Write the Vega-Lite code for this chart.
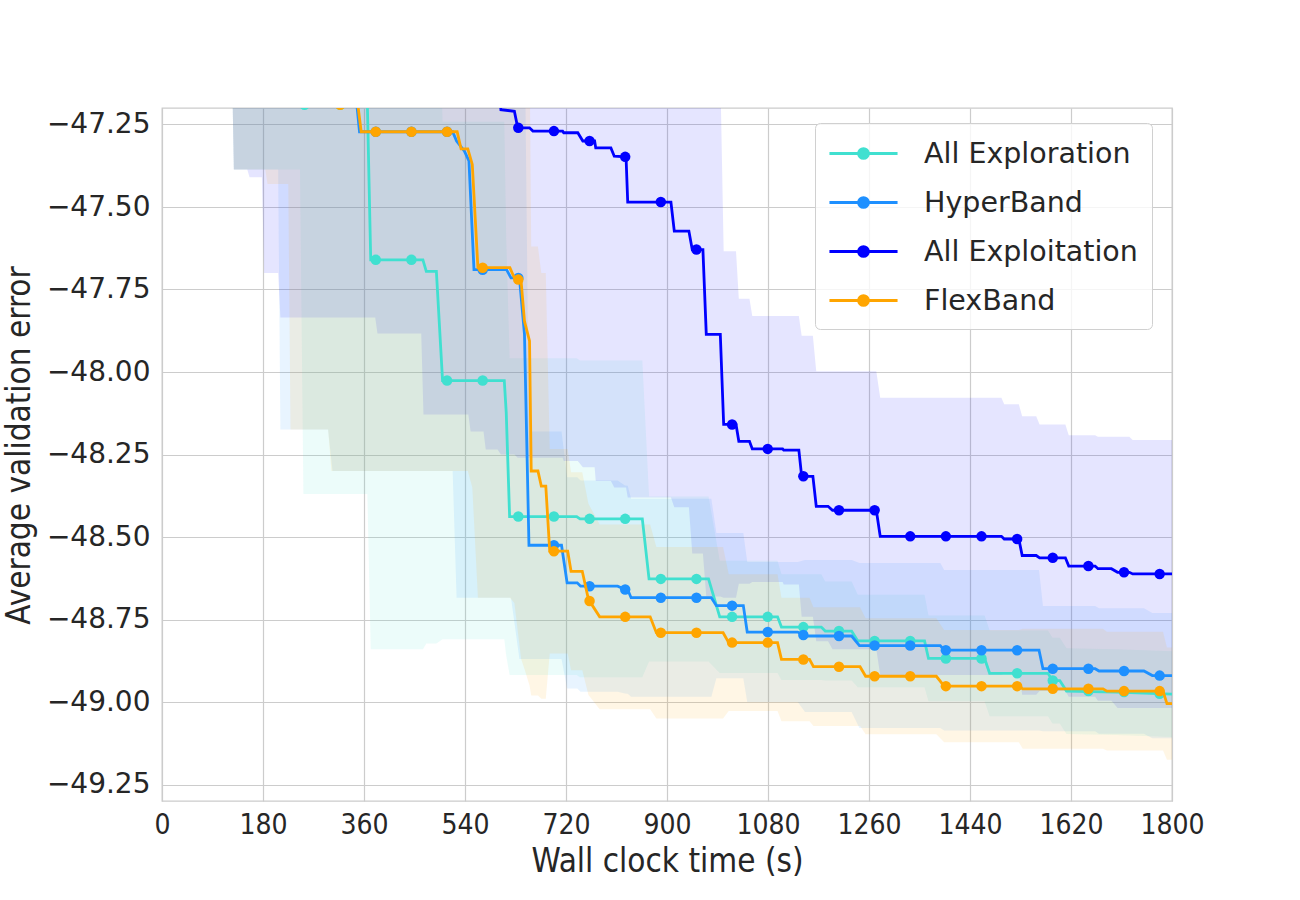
{
  "$schema": "https://vega.github.io/schema/vega-lite/v6.json",
  "width": 1010,
  "height": 693,
  "autosize": {"type": "none"},
  "padding": {"left": 162, "top": 108, "right": 128, "bottom": 99},
  "background": "white",
  "datasets": {
    "curves": [
      {"series": "All Exploration", "t": 0, "mean": -46.9, "lower": -47.1, "upper": -46.7},
      {"series": "All Exploration", "t": 125, "mean": -46.9, "lower": -47.1, "upper": -46.7},
      {"series": "All Exploration", "t": 128, "mean": -46.95, "lower": -47.386, "upper": -46.5},
      {"series": "All Exploration", "t": 246, "mean": -46.95, "lower": -47.386, "upper": -46.5},
      {"series": "All Exploration", "t": 252, "mean": -47.19, "lower": -48.37, "upper": -46.0},
      {"series": "All Exploration", "t": 366, "mean": -47.19, "lower": -48.37, "upper": -46.0},
      {"series": "All Exploration", "t": 372, "mean": -47.66, "lower": -48.84, "upper": -46.48},
      {"series": "All Exploration", "t": 465, "mean": -47.66, "lower": -48.84, "upper": -46.48},
      {"series": "All Exploration", "t": 471, "mean": -47.695, "lower": -48.823, "upper": -46.57},
      {"series": "All Exploration", "t": 489, "mean": -47.695, "lower": -48.823, "upper": -46.57},
      {"series": "All Exploration", "t": 500, "mean": -48.026, "lower": -48.81, "upper": -47.242},
      {"series": "All Exploration", "t": 610, "mean": -48.026, "lower": -48.81, "upper": -47.242},
      {"series": "All Exploration", "t": 613.5, "mean": -48.123, "lower": -48.86, "upper": -47.6},
      {"series": "All Exploration", "t": 619.5, "mean": -48.438, "lower": -48.918, "upper": -47.958},
      {"series": "All Exploration", "t": 739, "mean": -48.438, "lower": -48.918, "upper": -47.958},
      {"series": "All Exploration", "t": 745, "mean": -48.445, "lower": -48.925, "upper": -47.965},
      {"series": "All Exploration", "t": 856, "mean": -48.445, "lower": -48.925, "upper": -47.965},
      {"series": "All Exploration", "t": 868, "mean": -48.627, "lower": -48.877, "upper": -48.377},
      {"series": "All Exploration", "t": 974, "mean": -48.627, "lower": -48.877, "upper": -48.377},
      {"series": "All Exploration", "t": 994, "mean": -48.742, "lower": -48.912, "upper": -48.572},
      {"series": "All Exploration", "t": 1097, "mean": -48.742, "lower": -48.912, "upper": -48.572},
      {"series": "All Exploration", "t": 1104, "mean": -48.773, "lower": -48.933, "upper": -48.613},
      {"series": "All Exploration", "t": 1175, "mean": -48.773, "lower": -48.933, "upper": -48.613},
      {"series": "All Exploration", "t": 1182, "mean": -48.785, "lower": -48.935, "upper": -48.635},
      {"series": "All Exploration", "t": 1229, "mean": -48.785, "lower": -48.935, "upper": -48.635},
      {"series": "All Exploration", "t": 1240, "mean": -48.815, "lower": -48.955, "upper": -48.675},
      {"series": "All Exploration", "t": 1359, "mean": -48.815, "lower": -48.955, "upper": -48.675},
      {"series": "All Exploration", "t": 1366, "mean": -48.868, "lower": -48.998, "upper": -48.738},
      {"series": "All Exploration", "t": 1466, "mean": -48.868, "lower": -48.998, "upper": -48.738},
      {"series": "All Exploration", "t": 1475, "mean": -48.913, "lower": -49.043, "upper": -48.783},
      {"series": "All Exploration", "t": 1579, "mean": -48.913, "lower": -49.043, "upper": -48.783},
      {"series": "All Exploration", "t": 1587, "mean": -48.935, "lower": -49.065, "upper": -48.805},
      {"series": "All Exploration", "t": 1600, "mean": -48.935, "lower": -49.065, "upper": -48.805},
      {"series": "All Exploration", "t": 1612, "mean": -48.967, "lower": -49.097, "upper": -48.837},
      {"series": "All Exploration", "t": 1700, "mean": -48.97, "lower": -49.1, "upper": -48.84},
      {"series": "All Exploration", "t": 1800, "mean": -48.976, "lower": -49.106, "upper": -48.846},

      {"series": "HyperBand", "t": 0, "mean": -46.9, "lower": -47.1, "upper": -46.7},
      {"series": "HyperBand", "t": 125, "mean": -46.9, "lower": -47.1, "upper": -46.7},
      {"series": "HyperBand", "t": 128, "mean": -46.9, "lower": -47.386, "upper": -46.5},
      {"series": "HyperBand", "t": 207, "mean": -46.9, "lower": -47.386, "upper": -46.5},
      {"series": "HyperBand", "t": 211, "mean": -46.9, "lower": -48.174, "upper": -46.0},
      {"series": "HyperBand", "t": 296, "mean": -46.9, "lower": -48.174, "upper": -46.0},
      {"series": "HyperBand", "t": 304, "mean": -46.95, "lower": -48.3, "upper": -46.0},
      {"series": "HyperBand", "t": 342, "mean": -47.1, "lower": -48.3, "upper": -46.0},
      {"series": "HyperBand", "t": 352, "mean": -47.272, "lower": -48.3, "upper": -46.24},
      {"series": "HyperBand", "t": 518, "mean": -47.272, "lower": -48.3, "upper": -46.24},
      {"series": "HyperBand", "t": 525, "mean": -47.3, "lower": -48.684, "upper": -46.3},
      {"series": "HyperBand", "t": 539, "mean": -47.331, "lower": -48.684, "upper": -46.3},
      {"series": "HyperBand", "t": 547, "mean": -47.36, "lower": -48.684, "upper": -46.4},
      {"series": "HyperBand", "t": 556, "mean": -47.69, "lower": -48.684, "upper": -46.7},
      {"series": "HyperBand", "t": 614, "mean": -47.69, "lower": -48.684, "upper": -46.7},
      {"series": "HyperBand", "t": 622, "mean": -47.715, "lower": -48.684, "upper": -46.75},
      {"series": "HyperBand", "t": 637, "mean": -47.715, "lower": -48.87, "upper": -46.56},
      {"series": "HyperBand", "t": 646, "mean": -47.886, "lower": -48.87, "upper": -46.9},
      {"series": "HyperBand", "t": 654, "mean": -48.525, "lower": -48.87, "upper": -48.18},
      {"series": "HyperBand", "t": 712, "mean": -48.525, "lower": -48.87, "upper": -48.18},
      {"series": "HyperBand", "t": 722, "mean": -48.639, "lower": -48.959, "upper": -48.319},
      {"series": "HyperBand", "t": 740, "mean": -48.639, "lower": -48.959, "upper": -48.319},
      {"series": "HyperBand", "t": 746, "mean": -48.649, "lower": -48.969, "upper": -48.329},
      {"series": "HyperBand", "t": 812, "mean": -48.649, "lower": -48.969, "upper": -48.329},
      {"series": "HyperBand", "t": 825, "mean": -48.659, "lower": -48.974, "upper": -48.344},
      {"series": "HyperBand", "t": 830, "mean": -48.66, "lower": -48.975, "upper": -48.345},
      {"series": "HyperBand", "t": 836, "mean": -48.684, "lower": -48.984, "upper": -48.384},
      {"series": "HyperBand", "t": 979, "mean": -48.684, "lower": -48.984, "upper": -48.384},
      {"series": "HyperBand", "t": 988, "mean": -48.708, "lower": -48.928, "upper": -48.488},
      {"series": "HyperBand", "t": 1036, "mean": -48.708, "lower": -48.928, "upper": -48.488},
      {"series": "HyperBand", "t": 1043, "mean": -48.788, "lower": -49.0, "upper": -48.576},
      {"series": "HyperBand", "t": 1133, "mean": -48.788, "lower": -49.0, "upper": -48.576},
      {"series": "HyperBand", "t": 1146, "mean": -48.8, "lower": -49.03, "upper": -48.57},
      {"series": "HyperBand", "t": 1229, "mean": -48.8, "lower": -49.03, "upper": -48.57},
      {"series": "HyperBand", "t": 1243, "mean": -48.829, "lower": -49.079, "upper": -48.579},
      {"series": "HyperBand", "t": 1387, "mean": -48.829, "lower": -49.079, "upper": -48.579},
      {"series": "HyperBand", "t": 1394, "mean": -48.843, "lower": -49.086, "upper": -48.6},
      {"series": "HyperBand", "t": 1563, "mean": -48.843, "lower": -49.086, "upper": -48.6},
      {"series": "HyperBand", "t": 1570, "mean": -48.899, "lower": -49.089, "upper": -48.709},
      {"series": "HyperBand", "t": 1663, "mean": -48.899, "lower": -49.089, "upper": -48.709},
      {"series": "HyperBand", "t": 1670, "mean": -48.906, "lower": -49.096, "upper": -48.716},
      {"series": "HyperBand", "t": 1750, "mean": -48.906, "lower": -49.096, "upper": -48.716},
      {"series": "HyperBand", "t": 1765, "mean": -48.92, "lower": -49.11, "upper": -48.73},
      {"series": "HyperBand", "t": 1800, "mean": -48.92, "lower": -49.11, "upper": -48.73},

      {"series": "All Exploitation", "t": 0, "mean": -46.9, "lower": -47.1, "upper": -46.7},
      {"series": "All Exploitation", "t": 125, "mean": -46.9, "lower": -47.1, "upper": -46.7},
      {"series": "All Exploitation", "t": 128, "mean": -46.9, "lower": -47.386, "upper": -46.5},
      {"series": "All Exploitation", "t": 152, "mean": -46.9, "lower": -47.386, "upper": -46.5},
      {"series": "All Exploitation", "t": 156, "mean": -46.9, "lower": -47.41, "upper": -46.5},
      {"series": "All Exploitation", "t": 178, "mean": -46.9, "lower": -47.41, "upper": -46.5},
      {"series": "All Exploitation", "t": 182, "mean": -46.9, "lower": -47.7, "upper": -46.3},
      {"series": "All Exploitation", "t": 207, "mean": -46.9, "lower": -47.7, "upper": -46.3},
      {"series": "All Exploitation", "t": 211, "mean": -46.9, "lower": -47.835, "upper": -46.2},
      {"series": "All Exploitation", "t": 380, "mean": -46.9, "lower": -47.835, "upper": -46.2},
      {"series": "All Exploitation", "t": 384, "mean": -46.9, "lower": -47.883, "upper": -46.2},
      {"series": "All Exploitation", "t": 462, "mean": -46.9, "lower": -47.883, "upper": -46.2},
      {"series": "All Exploitation", "t": 466, "mean": -46.9, "lower": -48.129, "upper": -46.0},
      {"series": "All Exploitation", "t": 546, "mean": -46.9, "lower": -48.129, "upper": -46.0},
      {"series": "All Exploitation", "t": 550, "mean": -46.9, "lower": -48.18, "upper": -46.0},
      {"series": "All Exploitation", "t": 573, "mean": -46.9, "lower": -48.18, "upper": -46.0},
      {"series": "All Exploitation", "t": 577, "mean": -46.95, "lower": -48.235, "upper": -46.0},
      {"series": "All Exploitation", "t": 598, "mean": -47.1, "lower": -48.235, "upper": -46.0},
      {"series": "All Exploitation", "t": 604, "mean": -47.205, "lower": -48.25, "upper": -46.2},
      {"series": "All Exploitation", "t": 628, "mean": -47.21, "lower": -48.25, "upper": -46.2},
      {"series": "All Exploitation", "t": 634, "mean": -47.26, "lower": -48.26, "upper": -46.26},
      {"series": "All Exploitation", "t": 655, "mean": -47.26, "lower": -48.26, "upper": -46.26},
      {"series": "All Exploitation", "t": 661, "mean": -47.27, "lower": -48.26, "upper": -46.28},
      {"series": "All Exploitation", "t": 714, "mean": -47.27, "lower": -48.26, "upper": -46.28},
      {"series": "All Exploitation", "t": 716, "mean": -47.275, "lower": -48.27, "upper": -46.28},
      {"series": "All Exploitation", "t": 741, "mean": -47.275, "lower": -48.27, "upper": -46.28},
      {"series": "All Exploitation", "t": 750, "mean": -47.3, "lower": -48.289, "upper": -46.31},
      {"series": "All Exploitation", "t": 771, "mean": -47.3, "lower": -48.289, "upper": -46.31},
      {"series": "All Exploitation", "t": 773, "mean": -47.321, "lower": -48.33, "upper": -46.31},
      {"series": "All Exploitation", "t": 800, "mean": -47.321, "lower": -48.33, "upper": -46.31},
      {"series": "All Exploitation", "t": 806, "mean": -47.346, "lower": -48.35, "upper": -46.34},
      {"series": "All Exploitation", "t": 827, "mean": -47.348, "lower": -48.35, "upper": -46.34},
      {"series": "All Exploitation", "t": 830, "mean": -47.485, "lower": -48.38, "upper": -46.59},
      {"series": "All Exploitation", "t": 907, "mean": -47.485, "lower": -48.38, "upper": -46.59},
      {"series": "All Exploitation", "t": 913, "mean": -47.573, "lower": -48.41, "upper": -46.74},
      {"series": "All Exploitation", "t": 939, "mean": -47.573, "lower": -48.41, "upper": -46.74},
      {"series": "All Exploitation", "t": 945, "mean": -47.629, "lower": -48.55, "upper": -46.71},
      {"series": "All Exploitation", "t": 964, "mean": -47.629, "lower": -48.55, "upper": -46.71},
      {"series": "All Exploitation", "t": 970, "mean": -47.886, "lower": -48.68, "upper": -47.09},
      {"series": "All Exploitation", "t": 995, "mean": -47.886, "lower": -48.68, "upper": -47.09},
      {"series": "All Exploitation", "t": 1001, "mean": -48.159, "lower": -48.684, "upper": -47.634},
      {"series": "All Exploitation", "t": 1023, "mean": -48.159, "lower": -48.684, "upper": -47.634},
      {"series": "All Exploitation", "t": 1028, "mean": -48.21, "lower": -48.642, "upper": -47.778},
      {"series": "All Exploitation", "t": 1047, "mean": -48.21, "lower": -48.642, "upper": -47.778},
      {"series": "All Exploitation", "t": 1052, "mean": -48.233, "lower": -48.636, "upper": -47.83},
      {"series": "All Exploitation", "t": 1106, "mean": -48.233, "lower": -48.636, "upper": -47.83},
      {"series": "All Exploitation", "t": 1108, "mean": -48.237, "lower": -48.644, "upper": -47.83},
      {"series": "All Exploitation", "t": 1135, "mean": -48.237, "lower": -48.644, "upper": -47.83},
      {"series": "All Exploitation", "t": 1140, "mean": -48.316, "lower": -48.742, "upper": -47.89},
      {"series": "All Exploitation", "t": 1160, "mean": -48.316, "lower": -48.742, "upper": -47.89},
      {"series": "All Exploitation", "t": 1166, "mean": -48.407, "lower": -48.816, "upper": -47.998},
      {"series": "All Exploitation", "t": 1187, "mean": -48.407, "lower": -48.816, "upper": -47.998},
      {"series": "All Exploitation", "t": 1195, "mean": -48.419, "lower": -48.84, "upper": -47.998},
      {"series": "All Exploitation", "t": 1273, "mean": -48.419, "lower": -48.84, "upper": -47.998},
      {"series": "All Exploitation", "t": 1280, "mean": -48.498, "lower": -48.918, "upper": -48.078},
      {"series": "All Exploitation", "t": 1496, "mean": -48.498, "lower": -48.918, "upper": -48.078},
      {"series": "All Exploitation", "t": 1501, "mean": -48.506, "lower": -48.914, "upper": -48.098},
      {"series": "All Exploitation", "t": 1527, "mean": -48.506, "lower": -48.914, "upper": -48.098},
      {"series": "All Exploitation", "t": 1533, "mean": -48.556, "lower": -48.978, "upper": -48.134},
      {"series": "All Exploitation", "t": 1558, "mean": -48.556, "lower": -48.978, "upper": -48.134},
      {"series": "All Exploitation", "t": 1564, "mean": -48.563, "lower": -48.967, "upper": -48.159},
      {"series": "All Exploitation", "t": 1610, "mean": -48.563, "lower": -48.967, "upper": -48.159},
      {"series": "All Exploitation", "t": 1616, "mean": -48.588, "lower": -48.984, "upper": -48.192},
      {"series": "All Exploitation", "t": 1663, "mean": -48.588, "lower": -48.984, "upper": -48.192},
      {"series": "All Exploitation", "t": 1668, "mean": -48.596, "lower": -48.996, "upper": -48.196},
      {"series": "All Exploitation", "t": 1692, "mean": -48.596, "lower": -48.996, "upper": -48.196},
      {"series": "All Exploitation", "t": 1703, "mean": -48.607, "lower": -49.018, "upper": -48.196},
      {"series": "All Exploitation", "t": 1724, "mean": -48.607, "lower": -49.018, "upper": -48.196},
      {"series": "All Exploitation", "t": 1730, "mean": -48.612, "lower": -49.018, "upper": -48.206},
      {"series": "All Exploitation", "t": 1800, "mean": -48.612, "lower": -49.018, "upper": -48.206},

      {"series": "FlexBand", "t": 0, "mean": -46.9, "lower": -47.1, "upper": -46.7},
      {"series": "FlexBand", "t": 125, "mean": -46.9, "lower": -47.1, "upper": -46.7},
      {"series": "FlexBand", "t": 128, "mean": -46.9, "lower": -47.386, "upper": -46.5},
      {"series": "FlexBand", "t": 184, "mean": -46.9, "lower": -47.386, "upper": -46.5},
      {"series": "FlexBand", "t": 188, "mean": -46.9, "lower": -47.43, "upper": -46.5},
      {"series": "FlexBand", "t": 225, "mean": -46.9, "lower": -47.43, "upper": -46.5},
      {"series": "FlexBand", "t": 229, "mean": -46.9, "lower": -48.174, "upper": -46.0},
      {"series": "FlexBand", "t": 296, "mean": -46.9, "lower": -48.174, "upper": -46.0},
      {"series": "FlexBand", "t": 302, "mean": -47.0, "lower": -48.3, "upper": -46.0},
      {"series": "FlexBand", "t": 305, "mean": -47.19, "lower": -48.3, "upper": -46.0},
      {"series": "FlexBand", "t": 349, "mean": -47.19, "lower": -48.3, "upper": -46.0},
      {"series": "FlexBand", "t": 355, "mean": -47.272, "lower": -48.3, "upper": -46.24},
      {"series": "FlexBand", "t": 526, "mean": -47.272, "lower": -48.3, "upper": -46.24},
      {"series": "FlexBand", "t": 533, "mean": -47.324, "lower": -48.3, "upper": -46.3},
      {"series": "FlexBand", "t": 545, "mean": -47.324, "lower": -48.3, "upper": -46.3},
      {"series": "FlexBand", "t": 553, "mean": -47.371, "lower": -48.35, "upper": -46.4},
      {"series": "FlexBand", "t": 563, "mean": -47.684, "lower": -48.684, "upper": -46.68},
      {"series": "FlexBand", "t": 620, "mean": -47.684, "lower": -48.684, "upper": -46.68},
      {"series": "FlexBand", "t": 628, "mean": -47.715, "lower": -48.7, "upper": -46.73},
      {"series": "FlexBand", "t": 640, "mean": -47.725, "lower": -48.87, "upper": -46.6},
      {"series": "FlexBand", "t": 646, "mean": -47.846, "lower": -48.9, "upper": -46.8},
      {"series": "FlexBand", "t": 655, "mean": -47.906, "lower": -48.95, "upper": -47.0},
      {"series": "FlexBand", "t": 658, "mean": -48.3, "lower": -48.98, "upper": -47.62},
      {"series": "FlexBand", "t": 670, "mean": -48.3, "lower": -48.98, "upper": -47.62},
      {"series": "FlexBand", "t": 676, "mean": -48.346, "lower": -48.99, "upper": -47.7},
      {"series": "FlexBand", "t": 684, "mean": -48.346, "lower": -48.99, "upper": -47.7},
      {"series": "FlexBand", "t": 691, "mean": -48.543, "lower": -48.853, "upper": -48.233},
      {"series": "FlexBand", "t": 723, "mean": -48.543, "lower": -48.853, "upper": -48.233},
      {"series": "FlexBand", "t": 729, "mean": -48.604, "lower": -48.904, "upper": -48.304},
      {"series": "FlexBand", "t": 749, "mean": -48.604, "lower": -48.904, "upper": -48.304},
      {"series": "FlexBand", "t": 760, "mean": -48.689, "lower": -48.979, "upper": -48.399},
      {"series": "FlexBand", "t": 780, "mean": -48.742, "lower": -49.022, "upper": -48.462},
      {"series": "FlexBand", "t": 870, "mean": -48.742, "lower": -49.022, "upper": -48.462},
      {"series": "FlexBand", "t": 881, "mean": -48.79, "lower": -49.05, "upper": -48.53},
      {"series": "FlexBand", "t": 1000, "mean": -48.79, "lower": -49.05, "upper": -48.53},
      {"series": "FlexBand", "t": 1010, "mean": -48.82, "lower": -49.027, "upper": -48.613},
      {"series": "FlexBand", "t": 1097, "mean": -48.82, "lower": -49.027, "upper": -48.613},
      {"series": "FlexBand", "t": 1104, "mean": -48.871, "lower": -49.058, "upper": -48.684},
      {"series": "FlexBand", "t": 1154, "mean": -48.871, "lower": -49.058, "upper": -48.684},
      {"series": "FlexBand", "t": 1161, "mean": -48.893, "lower": -49.073, "upper": -48.713},
      {"series": "FlexBand", "t": 1244, "mean": -48.893, "lower": -49.073, "upper": -48.713},
      {"series": "FlexBand", "t": 1254, "mean": -48.922, "lower": -49.098, "upper": -48.746},
      {"series": "FlexBand", "t": 1380, "mean": -48.922, "lower": -49.098, "upper": -48.746},
      {"series": "FlexBand", "t": 1394, "mean": -48.952, "lower": -49.122, "upper": -48.782},
      {"series": "FlexBand", "t": 1527, "mean": -48.952, "lower": -49.122, "upper": -48.782},
      {"series": "FlexBand", "t": 1534, "mean": -48.96, "lower": -49.142, "upper": -48.778},
      {"series": "FlexBand", "t": 1677, "mean": -48.96, "lower": -49.142, "upper": -48.778},
      {"series": "FlexBand", "t": 1684, "mean": -48.967, "lower": -49.147, "upper": -48.787},
      {"series": "FlexBand", "t": 1784, "mean": -48.967, "lower": -49.147, "upper": -48.787},
      {"series": "FlexBand", "t": 1791, "mean": -49.005, "lower": -49.175, "upper": -48.835},
      {"series": "FlexBand", "t": 1800, "mean": -49.005, "lower": -49.175, "upper": -48.835}
    ],
    "markers": [
      {"series": "All Exploration", "t": 254, "value": -47.19},
      {"series": "All Exploration", "t": 317.5, "value": -47.19},
      {"series": "All Exploration", "t": 381, "value": -47.66},
      {"series": "All Exploration", "t": 444.5, "value": -47.66},
      {"series": "All Exploration", "t": 508, "value": -48.026},
      {"series": "All Exploration", "t": 571.5, "value": -48.026},
      {"series": "All Exploration", "t": 635, "value": -48.438},
      {"series": "All Exploration", "t": 698.5, "value": -48.438},
      {"series": "All Exploration", "t": 762, "value": -48.445},
      {"series": "All Exploration", "t": 825.5, "value": -48.445},
      {"series": "All Exploration", "t": 889, "value": -48.627},
      {"series": "All Exploration", "t": 952.5, "value": -48.627},
      {"series": "All Exploration", "t": 1016, "value": -48.742},
      {"series": "All Exploration", "t": 1079.5, "value": -48.742},
      {"series": "All Exploration", "t": 1143, "value": -48.773},
      {"series": "All Exploration", "t": 1206.5, "value": -48.785},
      {"series": "All Exploration", "t": 1270, "value": -48.815},
      {"series": "All Exploration", "t": 1333.5, "value": -48.815},
      {"series": "All Exploration", "t": 1397, "value": -48.868},
      {"series": "All Exploration", "t": 1460.5, "value": -48.868},
      {"series": "All Exploration", "t": 1524, "value": -48.913},
      {"series": "All Exploration", "t": 1587.5, "value": -48.935},
      {"series": "All Exploration", "t": 1651, "value": -48.967},
      {"series": "All Exploration", "t": 1714.5, "value": -48.97},
      {"series": "All Exploration", "t": 1778, "value": -48.975},

      {"series": "HyperBand", "t": 381, "value": -47.272},
      {"series": "HyperBand", "t": 444.5, "value": -47.272},
      {"series": "HyperBand", "t": 508, "value": -47.272},
      {"series": "HyperBand", "t": 571.5, "value": -47.69},
      {"series": "HyperBand", "t": 635, "value": -47.715},
      {"series": "HyperBand", "t": 698.5, "value": -48.525},
      {"series": "HyperBand", "t": 762, "value": -48.649},
      {"series": "HyperBand", "t": 825.5, "value": -48.659},
      {"series": "HyperBand", "t": 889, "value": -48.684},
      {"series": "HyperBand", "t": 952.5, "value": -48.684},
      {"series": "HyperBand", "t": 1016, "value": -48.708},
      {"series": "HyperBand", "t": 1079.5, "value": -48.788},
      {"series": "HyperBand", "t": 1143, "value": -48.797},
      {"series": "HyperBand", "t": 1206.5, "value": -48.8},
      {"series": "HyperBand", "t": 1270, "value": -48.829},
      {"series": "HyperBand", "t": 1333.5, "value": -48.829},
      {"series": "HyperBand", "t": 1397, "value": -48.843},
      {"series": "HyperBand", "t": 1460.5, "value": -48.843},
      {"series": "HyperBand", "t": 1524, "value": -48.843},
      {"series": "HyperBand", "t": 1587.5, "value": -48.899},
      {"series": "HyperBand", "t": 1651, "value": -48.899},
      {"series": "HyperBand", "t": 1714.5, "value": -48.906},
      {"series": "HyperBand", "t": 1778, "value": -48.92},

      {"series": "All Exploitation", "t": 635, "value": -47.26},
      {"series": "All Exploitation", "t": 698.5, "value": -47.27},
      {"series": "All Exploitation", "t": 762, "value": -47.3},
      {"series": "All Exploitation", "t": 825.5, "value": -47.348},
      {"series": "All Exploitation", "t": 889, "value": -47.485},
      {"series": "All Exploitation", "t": 952.5, "value": -47.629},
      {"series": "All Exploitation", "t": 1016, "value": -48.159},
      {"series": "All Exploitation", "t": 1079.5, "value": -48.233},
      {"series": "All Exploitation", "t": 1143, "value": -48.316},
      {"series": "All Exploitation", "t": 1206.5, "value": -48.419},
      {"series": "All Exploitation", "t": 1270, "value": -48.419},
      {"series": "All Exploitation", "t": 1333.5, "value": -48.498},
      {"series": "All Exploitation", "t": 1397, "value": -48.498},
      {"series": "All Exploitation", "t": 1460.5, "value": -48.498},
      {"series": "All Exploitation", "t": 1524, "value": -48.506},
      {"series": "All Exploitation", "t": 1587.5, "value": -48.563},
      {"series": "All Exploitation", "t": 1651, "value": -48.588},
      {"series": "All Exploitation", "t": 1714.5, "value": -48.607},
      {"series": "All Exploitation", "t": 1778, "value": -48.612},

      {"series": "FlexBand", "t": 317.5, "value": -47.19},
      {"series": "FlexBand", "t": 381, "value": -47.272},
      {"series": "FlexBand", "t": 444.5, "value": -47.272},
      {"series": "FlexBand", "t": 508, "value": -47.272},
      {"series": "FlexBand", "t": 571.5, "value": -47.684},
      {"series": "FlexBand", "t": 635, "value": -47.72},
      {"series": "FlexBand", "t": 698.5, "value": -48.543},
      {"series": "FlexBand", "t": 762, "value": -48.694},
      {"series": "FlexBand", "t": 825.5, "value": -48.742},
      {"series": "FlexBand", "t": 889, "value": -48.79},
      {"series": "FlexBand", "t": 952.5, "value": -48.79},
      {"series": "FlexBand", "t": 1016, "value": -48.82},
      {"series": "FlexBand", "t": 1079.5, "value": -48.82},
      {"series": "FlexBand", "t": 1143, "value": -48.871},
      {"series": "FlexBand", "t": 1206.5, "value": -48.893},
      {"series": "FlexBand", "t": 1270, "value": -48.922},
      {"series": "FlexBand", "t": 1333.5, "value": -48.922},
      {"series": "FlexBand", "t": 1397, "value": -48.952},
      {"series": "FlexBand", "t": 1460.5, "value": -48.952},
      {"series": "FlexBand", "t": 1524, "value": -48.952},
      {"series": "FlexBand", "t": 1587.5, "value": -48.96},
      {"series": "FlexBand", "t": 1651, "value": -48.96},
      {"series": "FlexBand", "t": 1714.5, "value": -48.967},
      {"series": "FlexBand", "t": 1778, "value": -48.967}
    ]
  },
  "layer": [
    {
      "data": {"name": "curves"},
      "mark": {"type": "area", "opacity": 0.1, "clip": true},
      "encoding": {
        "x": {
          "field": "t",
          "type": "quantitative",
          "scale": {"domain": [0, 1800], "nice": false},
          "axis": {
            "title": "Wall clock time (s)",
            "values": [0, 180, 360, 540, 720, 900, 1080, 1260, 1440, 1620, 1800],
            "format": "d",
            "labelFont": "DejaVu Sans Condensed, Liberation Sans Narrow, DejaVu Sans",
            "labelFontSize": 28,
            "labelPadding": 10,
            "titleFont": "DejaVu Sans Condensed, Liberation Sans Narrow, DejaVu Sans",
            "titleFontSize": 33,
            "titlePadding": 6
          }
        },
        "y": {
          "field": "lower",
          "type": "quantitative",
          "stack": null,
          "scale": {"domain": [-49.3, -47.2], "nice": false, "zero": false},
          "axis": {
            "title": "Average validation error",
            "values": [-47.25, -47.5, -47.75, -48.0, -48.25, -48.5, -48.75, -49.0, -49.25],
            "format": ".2f",
            "labelFont": "DejaVu Sans",
            "labelFontSize": 28,
            "labelPadding": 12,
            "titleFont": "DejaVu Sans Condensed, Liberation Sans Narrow, DejaVu Sans",
            "titleFontSize": 33,
            "titlePadding": 10,
            "titleY": 337
          }
        },
        "y2": {"field": "upper"},
        "color": {
          "field": "series",
          "type": "nominal",
          "scale": {
            "domain": ["All Exploration", "HyperBand", "All Exploitation", "FlexBand"],
            "range": ["#40E0D0", "#1E90FF", "#0000FF", "#FFA500"]
          },
          "legend": {
            "title": null,
            "orient": "none",
            "legendX": 653,
            "legendY": 15,
            "symbolType": "M-2.27,0L2.27,0M-0.33,0A0.33,0.33,0,1,1,0.33,0A0.33,0.33,0,1,1,-0.33,0Z",
            "symbolSize": 900,
            "symbolStrokeWidth": 2.8,
            "symbolOpacity": 1,
            "symbolOffset": 18,
            "labelOffset": 44,
            "labelFont": "DejaVu Sans",
            "labelFontSize": 28.5,
            "labelColor": "#262626",
            "labelLimit": 400,
            "rowPadding": 18,
            "padding": 14,
            "fillColor": "rgba(255,255,255,0.8)",
            "strokeColor": "#d0d0d0",
            "cornerRadius": 5,
            "encode": {
              "symbols": {
                "update": {
                  "fill": {"scale": "color", "field": "value"},
                  "stroke": {"scale": "color", "field": "value"},
                  "opacity": {"value": 1},
                  "fillOpacity": {"value": 1},
                  "strokeOpacity": {"value": 1}
                }
              }
            }
          }
        }
      }
    },
    {
      "data": {"name": "curves"},
      "transform": [{"filter": {"field": "series", "equal": "All Exploration"}}],
      "mark": {"type": "line", "strokeWidth": 2.8, "clip": true},
      "encoding": {
        "x": {"field": "t", "type": "quantitative"},
        "y": {"field": "mean", "type": "quantitative"},
        "color": {"field": "series", "type": "nominal"}
      }
    },
    {
      "data": {"name": "markers"},
      "transform": [{"filter": {"field": "series", "equal": "All Exploration"}}],
      "mark": {"type": "point", "filled": true, "size": 110, "opacity": 1, "clip": true},
      "encoding": {
        "x": {"field": "t", "type": "quantitative"},
        "y": {"field": "value", "type": "quantitative"},
        "color": {"field": "series", "type": "nominal"}
      }
    },
    {
      "data": {"name": "curves"},
      "transform": [{"filter": {"field": "series", "equal": "HyperBand"}}],
      "mark": {"type": "line", "strokeWidth": 2.8, "clip": true},
      "encoding": {
        "x": {"field": "t", "type": "quantitative"},
        "y": {"field": "mean", "type": "quantitative"},
        "color": {"field": "series", "type": "nominal"}
      }
    },
    {
      "data": {"name": "markers"},
      "transform": [{"filter": {"field": "series", "equal": "HyperBand"}}],
      "mark": {"type": "point", "filled": true, "size": 110, "opacity": 1, "clip": true},
      "encoding": {
        "x": {"field": "t", "type": "quantitative"},
        "y": {"field": "value", "type": "quantitative"},
        "color": {"field": "series", "type": "nominal"}
      }
    },
    {
      "data": {"name": "curves"},
      "transform": [{"filter": {"field": "series", "equal": "All Exploitation"}}],
      "mark": {"type": "line", "strokeWidth": 2.8, "clip": true},
      "encoding": {
        "x": {"field": "t", "type": "quantitative"},
        "y": {"field": "mean", "type": "quantitative"},
        "color": {"field": "series", "type": "nominal"}
      }
    },
    {
      "data": {"name": "markers"},
      "transform": [{"filter": {"field": "series", "equal": "All Exploitation"}}],
      "mark": {"type": "point", "filled": true, "size": 110, "opacity": 1, "clip": true},
      "encoding": {
        "x": {"field": "t", "type": "quantitative"},
        "y": {"field": "value", "type": "quantitative"},
        "color": {"field": "series", "type": "nominal"}
      }
    },
    {
      "data": {"name": "curves"},
      "transform": [{"filter": {"field": "series", "equal": "FlexBand"}}],
      "mark": {"type": "line", "strokeWidth": 2.8, "clip": true},
      "encoding": {
        "x": {"field": "t", "type": "quantitative"},
        "y": {"field": "mean", "type": "quantitative"},
        "color": {"field": "series", "type": "nominal"}
      }
    },
    {
      "data": {"name": "markers"},
      "transform": [{"filter": {"field": "series", "equal": "FlexBand"}}],
      "mark": {"type": "point", "filled": true, "size": 110, "opacity": 1, "clip": true},
      "encoding": {
        "x": {"field": "t", "type": "quantitative"},
        "y": {"field": "value", "type": "quantitative"},
        "color": {"field": "series", "type": "nominal"}
      }
    }
  ],
  "config": {
    "view": {"stroke": "#cccccc", "strokeWidth": 1.3},
    "axis": {
      "grid": true,
      "gridColor": "#cccccc",
      "gridWidth": 1.2,
      "domain": false,
      "ticks": false,
      "labelColor": "#262626",
      "titleColor": "#262626",
      "titleFontWeight": "normal",
      "labelFlush": false,
      "labelOverlap": false
    }
  }
}
